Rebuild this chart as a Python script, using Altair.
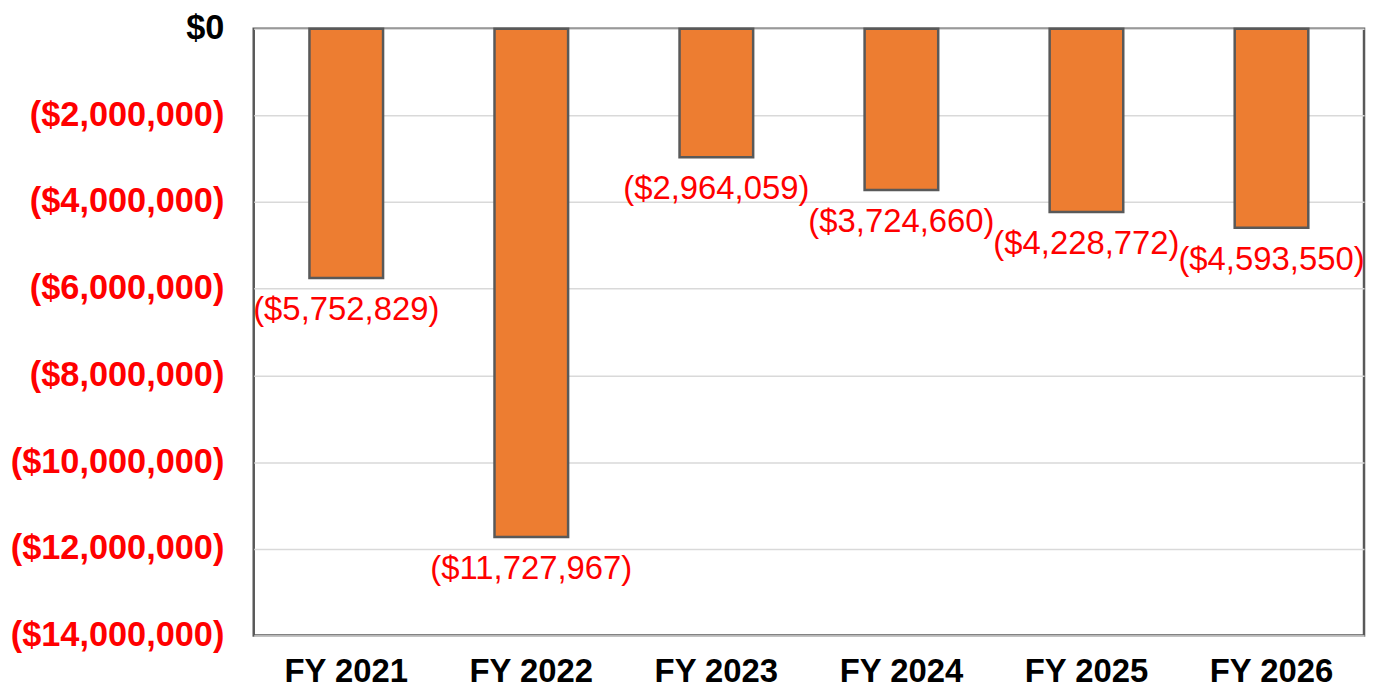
import altair as alt
import pandas as pd

years = ["FY 2021", "FY 2022", "FY 2023", "FY 2024", "FY 2025", "FY 2026"]
values = [-5752829, -11727967, -2964059, -3724660, -4228772, -4593550]
y_ticks = [-14000000, -12000000, -10000000, -8000000, -6000000, -4000000, -2000000, 0]

df = pd.DataFrame({"year": years, "value": values})
df["label"] = ["(${:,})".format(abs(v)) for v in values]

FONT = "Liberation Sans"

x_enc = alt.X(
    "year:N",
    sort=years,
    scale=alt.Scale(paddingInner=0, paddingOuter=0),
    axis=alt.Axis(
        title=None, labelAngle=0, ticks=False, tickSize=0, domain=False, grid=False,
        labelFont=FONT, labelFontSize=33, labelFontWeight="bold", labelColor="#000000",
        labelPadding=20, labelLimit=0,
    ),
)
y_enc = alt.Y(
    "value:Q",
    scale=alt.Scale(domain=[-14000000, 0], nice=False),
    axis=alt.Axis(
        title=None, values=y_ticks, ticks=False, tickSize=0, domain=False,
        grid=True, gridColor="#D9D9D9", gridWidth=1.5,
        labelFont=FONT, labelFontSize=34.5, labelFontWeight="bold",
        labelColor={"condition": {"test": "datum.value == 0", "value": "#000000"}, "value": "#FF0000"},
        labelExpr="datum.value == 0 ? '$0\u00a0' : '($' + format(abs(datum.value), ',') + ')'",
        labelPadding=30, labelLimit=0,
    ),
)

bars = alt.Chart(df).mark_bar(
    size=74, color="#ED7D31", stroke="#595959", strokeWidth=2.5
).encode(x=x_enc, y=y_enc)

text = alt.Chart(df).mark_text(
    font=FONT, fontSize=33, color="#FF0000", baseline="top", dy=16
).encode(x=alt.X("year:N", sort=years), y="value:Q", text="label:N")

chart = (
    alt.layer(bars, text)
    .properties(
        width=1116, height=610,
        autosize=alt.AutoSizeParams(type="none"),
        padding={"left": 247, "top": 19, "right": 4, "bottom": 54},
        background="#FFFFFF",
    )
    .configure_view(stroke="#595959", strokeWidth=2.5)
)

chart.save("out.html", embed_options={"renderer": "svg", "actions": False})
